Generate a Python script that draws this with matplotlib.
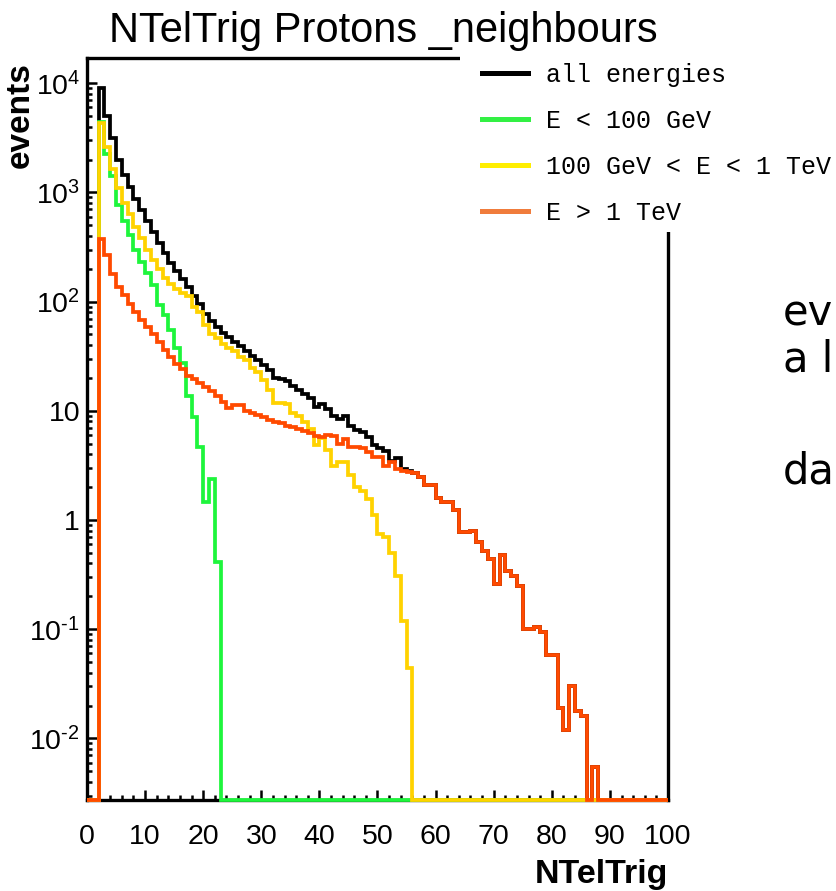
import numpy as np
import matplotlib
matplotlib.use('Agg')
import matplotlib.pyplot as plt
from matplotlib.lines import Line2D
from matplotlib.patches import Rectangle
from matplotlib.ticker import FixedLocator, MultipleLocator, LogLocator, NullFormatter

plt.rcParams['font.family'] = ['Liberation Sans', 'DejaVu Sans']
plt.rcParams['mathtext.fontset'] = 'custom'
plt.rcParams['mathtext.rm'] = 'Liberation Sans'
plt.rcParams['mathtext.it'] = 'Liberation Sans:italic'
plt.rcParams['mathtext.bf'] = 'Liberation Sans:bold'

# ---------------- data (bins of width 1 from 0 to 100) ----------------
bin_edges = np.arange(0, 101, 1)

all_energies = [
    0, 0, 9100, 5000, 3150, 2000, 1450, 1130, 870, 690,
    545, 435, 345, 280, 228, 190, 160, 135, 112, 95,
    77, 66, 58, 52, 47, 43, 39, 35, 32, 29.5,
    26.5, 23.5, 20, 19.5, 18.7, 17, 15.6, 14.3, 13, 10.9,
    11.5, 10.4, 9.0, 8.4, 8.9, 7.3, 6.7, 6.4, 5.75, 4.9,
    4.6, 4.3, 3.5, 3.7, 2.95, 2.8, 2.7, 2.5, 2.1, 2.1,
    1.6, 1.45, 1.45, 1.23, 0.78, 0.78, 0.80, 0.63, 0.52, 0.44,
    0.26, 0.48, 0.34, 0.31, 0.25, 0.10, 0.10, 0.105, 0.095, 0.058,
    0.058, 0.019, 0.012, 0.03, 0.018, 0.016, 0, 0.0055, 0, 0,
    0, 0, 0, 0, 0, 0, 0, 0, 0, 0,
]

e_low = [
    0, 0, 4400, 2250, 1400, 760, 550, 410, 300, 230,
    182, 141, 93, 76, 55, 38, 27.5, 13.8, 8.7, 4.7,
    1.45, 2.35, 0.41, 0, 0, 0, 0, 0, 0, 0,
    0, 0, 0, 0, 0, 0, 0, 0, 0, 0,
    0, 0, 0, 0, 0, 0, 0, 0, 0, 0,
    0, 0, 0, 0, 0, 0, 0, 0, 0, 0,
    0, 0, 0, 0, 0, 0, 0, 0, 0, 0,
    0, 0, 0, 0, 0, 0, 0, 0, 0, 0,
    0, 0, 0, 0, 0, 0, 0, 0, 0, 0,
    0, 0, 0, 0, 0, 0, 0, 0, 0, 0,
]

e_mid = [
    0, 0, 4300, 2600, 1650, 1100, 800, 640, 480, 380,
    300, 240, 200, 165, 145, 130, 120, 112, 90, 80,
    61, 50, 46, 41, 38, 35, 31, 29, 24.5, 22.5,
    19, 15.5, 11.8, 11.7, 11.5, 9.6, 9.0, 7.9, 6.8, 4.9,
    5.6, 4.4, 3.1, 3.4, 3.4, 2.6, 2.0, 1.86, 1.55, 1.1,
    0.75, 0.70, 0.5, 0.31, 0.118, 0.044, 0, 0, 0, 0,
    0, 0, 0, 0, 0, 0, 0, 0, 0, 0,
    0, 0, 0, 0, 0, 0, 0, 0, 0, 0,
    0, 0, 0, 0, 0, 0, 0, 0, 0, 0,
    0, 0, 0, 0, 0, 0, 0, 0, 0, 0,
]

e_high = [
    0, 0, 372, 270, 178, 135, 115, 95, 80, 68,
    59, 50, 43, 36, 31, 27, 24, 21, 19.5, 17.8,
    16.6, 15.1, 13.8, 12, 10.7, 11.2, 11.2, 10, 9.5, 9.1,
    8.7, 8.3, 7.9, 7.8, 7.2, 7.1, 6.8, 6.5, 6.3, 5.9,
    5.8, 6.0, 5.9, 5.0, 5.5, 4.7, 4.7, 4.6, 4.2, 3.8,
    3.8, 3.1, 3.4, 2.95, 2.8, 2.75, 2.7, 2.5, 2.1, 2.1,
    1.6, 1.45, 1.45, 1.23, 0.78, 0.78, 0.80, 0.63, 0.52, 0.44,
    0.26, 0.48, 0.34, 0.31, 0.25, 0.10, 0.10, 0.105, 0.095, 0.058,
    0.058, 0.019, 0.012, 0.03, 0.018, 0.016, 0, 0.0055, 0, 0,
    0, 0, 0, 0, 0, 0, 0, 0, 0, 0,
]

series_labels = ['all energies', 'E < 100 GeV', '100 GeV < E < 1 TeV', 'E > 1 TeV']
line_colors = ['#000000', '#1ef53c', '#ffd200', '#ff4a00']
legend_colors = ['#000000', '#33f044', '#ffee00', '#f07c3c']

ytick_values = [1e-2, 1e-1, 1, 10, 1e2, 1e3, 1e4]
ytick_labels = [r'$10^{\text{-}2}$', r'$10^{\text{-}1}$', '1', '10',
                '$10^{2}$', '$10^{3}$', '$10^{4}$']
xtick_values = list(range(0, 101, 10))

title_text = 'NTelTrig Protons _neighbours'
xlabel_text = 'NTelTrig'
ylabel_text = 'events'
side_texts = ['ev', 'a l', 'da']

# ---------------- figure ----------------
W, H = 837, 891
fig = plt.figure(figsize=(W / 100, H / 100), dpi=100)
ax = fig.add_axes([87 / W, 91 / H, 581 / W, 742 / H])

ymin, ymax = 10 ** -2.564, 10 ** 4.231
for vals, col in zip([all_energies, e_low, e_mid, e_high], line_colors):
    ax.stairs(np.clip(np.asarray(vals, dtype=float), ymin, None), bin_edges,
              color=col, lw=2.7, baseline=None, clip_on=False, zorder=3)

ax.set_yscale('log')
ax.set_ylim(ymin, ymax)
ax.set_xlim(0, 100)

for s in ax.spines.values():
    s.set_linewidth(2.4)

ax.xaxis.set_major_locator(FixedLocator(xtick_values))
ax.xaxis.set_minor_locator(MultipleLocator(2))
ax.yaxis.set_major_locator(FixedLocator(ytick_values))
ax.set_yticklabels(ytick_labels)
ax.yaxis.set_minor_locator(LogLocator(base=10, subs=np.arange(2, 10)))
ax.yaxis.set_minor_formatter(NullFormatter())

ax.tick_params(which='both', direction='in', top=False, right=False, width=1.8)
ax.tick_params(which='major', length=7, labelsize=20.5)
ax.tick_params(which='minor', length=3.5)
ax.tick_params(axis='x', which='major', pad=17)
ax.tick_params(axis='y', which='major', pad=5)

ax.set_xlabel(xlabel_text, loc='right', fontsize=24.5, fontweight='bold')
ax.xaxis.set_label_coords(1.0, (800 - 883) / 742)
ax.xaxis.label.set_verticalalignment('baseline')

ax.set_ylabel(ylabel_text, loc='top', fontsize=24, fontweight='bold')
ax.yaxis.set_label_coords((36 - 87) / 581, (800 - 62) / 742)

fig.text(383 / W, 1 - 42 / H, title_text, ha='center', va='baseline', fontsize=30)

# white legend area covering the top-right corner of the frame
fig.add_artist(Rectangle((460 / W, 1 - 232 / H), (W - 460) / W, (232 - 52) / H,
                         transform=fig.transFigure, facecolor='white',
                         edgecolor='none', zorder=1))

handles = [Line2D([0], [0], color=c, lw=3.6) for c in legend_colors]
fig.legend(handles, series_labels, loc='upper left',
           bbox_to_anchor=(482 / W, 1 - 63 / H), frameon=False,
           prop={'family': 'Liberation Mono', 'size': 18},
           handlelength=1.84, handletextpad=0.72, labelspacing=0.88,
           borderaxespad=0, borderpad=0)

side_y = [325, 372, 483]
for t, yy in zip(side_texts, side_y):
    fig.text(783 / W, 1 - yy / H, t, ha='left', va='baseline', fontsize=30,
             family='DejaVu Sans')

fig.savefig('out.png', dpi=100)
